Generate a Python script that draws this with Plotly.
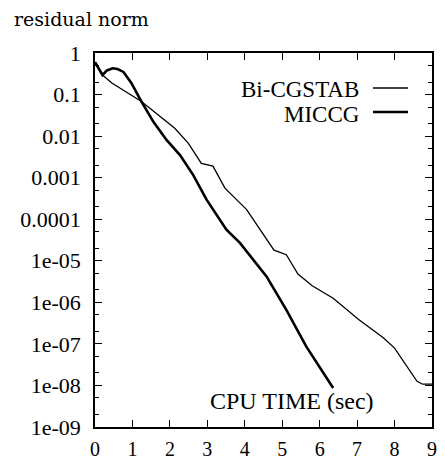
import plotly.graph_objects as go

# ---- data ----
bicg_time = [0.0, 0.2, 0.45, 0.76, 1.24, 1.64, 2.13, 2.49, 2.62, 2.84, 3.15, 3.47,
             4.05, 4.45, 4.78, 5.11, 5.42, 5.8, 6.36, 7.05, 7.7, 8.0, 8.3, 8.6, 8.75, 9.0]
bicg_resid = [0.6, 0.295, 0.19, 0.129, 0.068, 0.035, 0.0155, 0.0068, 0.0045, 0.0022,
              0.0019, 5.6e-4, 1.7e-4, 5.0e-5, 1.8e-5, 1.4e-5, 4.8e-6, 2.5e-6, 1.26e-6,
              3.8e-7, 1.4e-7, 7.9e-8, 3.2e-8, 1.26e-8, 1.07e-8, 1.07e-8]

miccg_time = [0.0, 0.2, 0.32, 0.47, 0.6, 0.76, 0.97, 1.24, 1.56, 1.91, 2.27, 2.62,
              2.98, 3.51, 3.87, 4.31, 4.58, 5.11, 5.64, 6.36]
miccg_resid = [0.6, 0.295, 0.38, 0.43, 0.41, 0.35, 0.19, 0.068, 0.022, 0.0081, 0.0035,
               0.00117, 2.95e-4, 5.6e-5, 2.7e-5, 8.7e-6, 4.2e-6, 6.6e-7, 8.7e-8, 8.7e-9]

series_names = ["Bi-CGSTAB", "MICCG"]
x_ticks = [0, 1, 2, 3, 4, 5, 6, 7, 8, 9]
y_ticks = [1, 0.1, 0.01, 0.001, 0.0001, 1e-5, 1e-6, 1e-7, 1e-8, 1e-9]
y_tick_labels = ["1", "0.1", "0.01", "0.001", "0.0001", "1e-05", "1e-06", "1e-07", "1e-08", "1e-09"]
y_title = "residual norm"
x_title = "CPU TIME (sec)"

SERIF = "Liberation Serif"
SERIF_WIDE = "DejaVu Serif"

fig = go.Figure()
fig.add_trace(go.Scatter(x=bicg_time, y=bicg_resid, mode="lines", name=series_names[0],
                         line=dict(color="black", width=1.3), showlegend=False))
fig.add_trace(go.Scatter(x=miccg_time, y=miccg_resid, mode="lines", name=series_names[1],
                         line=dict(color="black", width=2.6), showlegend=False))

W, H = 445, 462
L, R, T, B = 95, 13, 53, 35
PW, PH = W - L - R, H - T - B


def px_x(px):
    return (px - L) / PW


def px_y(py):
    return (H - B - py) / PH


fig.update_layout(
    template="none",
    width=W, height=H,
    margin=dict(l=L, r=R, t=T, b=B, pad=0, autoexpand=False),
    paper_bgcolor="white", plot_bgcolor="white",
    font=dict(family=SERIF, size=22, color="black"),
    xaxis=dict(range=[0, 9], tickmode="array", tickvals=x_ticks,
               ticktext=[str(v) for v in x_ticks], automargin=False,
               ticks="inside", ticklen=7, tickwidth=1.2, tickcolor="black",
               showline=True, linecolor="black", linewidth=1.6, mirror="ticks",
               showgrid=False, zeroline=False, ticklabelstandoff=3,
               tickfont=dict(family=SERIF, size=20, color="black")),
    yaxis=dict(type="log", range=[-9, 0], tickmode="array", tickvals=y_ticks,
               ticktext=y_tick_labels, automargin=False,
               ticks="inside", ticklen=7, tickwidth=1.2, tickcolor="black",
               showline=True, linecolor="black", linewidth=1.6, mirror="ticks",
               showgrid=False, zeroline=False, ticklabelstandoff=8,
               minor=dict(dtick="D2", ticks="inside", ticklen=4, tickwidth=1,
                          tickcolor="black", showgrid=False),
               tickfont=dict(family=SERIF, size=22, color="black")),
    annotations=[
        dict(text=y_title, xref="paper", yref="paper", x=px_x(12),
             y=px_y(6), xanchor="left", yanchor="top", showarrow=False,
             font=dict(family=SERIF_WIDE, size=19, color="black")),
        dict(text=x_title, xref="paper", yref="paper", x=px_x(376),
             y=px_y(401), xanchor="right", yanchor="middle", showarrow=False,
             font=dict(family=SERIF, size=24, color="black")),
        dict(text=series_names[0], xref="paper", yref="paper", x=px_x(361),
             y=px_y(90), xanchor="right", yanchor="middle", showarrow=False,
             font=dict(family=SERIF, size=23, color="black")),
        dict(text=series_names[1], xref="paper", yref="paper", x=px_x(361),
             y=px_y(114), xanchor="right", yanchor="middle", showarrow=False,
             font=dict(family=SERIF, size=23, color="black")),
    ],
    shapes=[
        dict(type="line", xref="paper", yref="paper",
             x0=px_x(373), x1=px_x(408), y0=px_y(88), y1=px_y(88),
             line=dict(color="black", width=1.3)),
        dict(type="line", xref="paper", yref="paper",
             x0=px_x(373), x1=px_x(408), y0=px_y(112), y1=px_y(112),
             line=dict(color="black", width=2.6)),
    ],
)

fig.write_html("out.html", config={"displayModeBar": False},
               post_script="document.body.style.margin='0';document.body.style.overflow='hidden';")
